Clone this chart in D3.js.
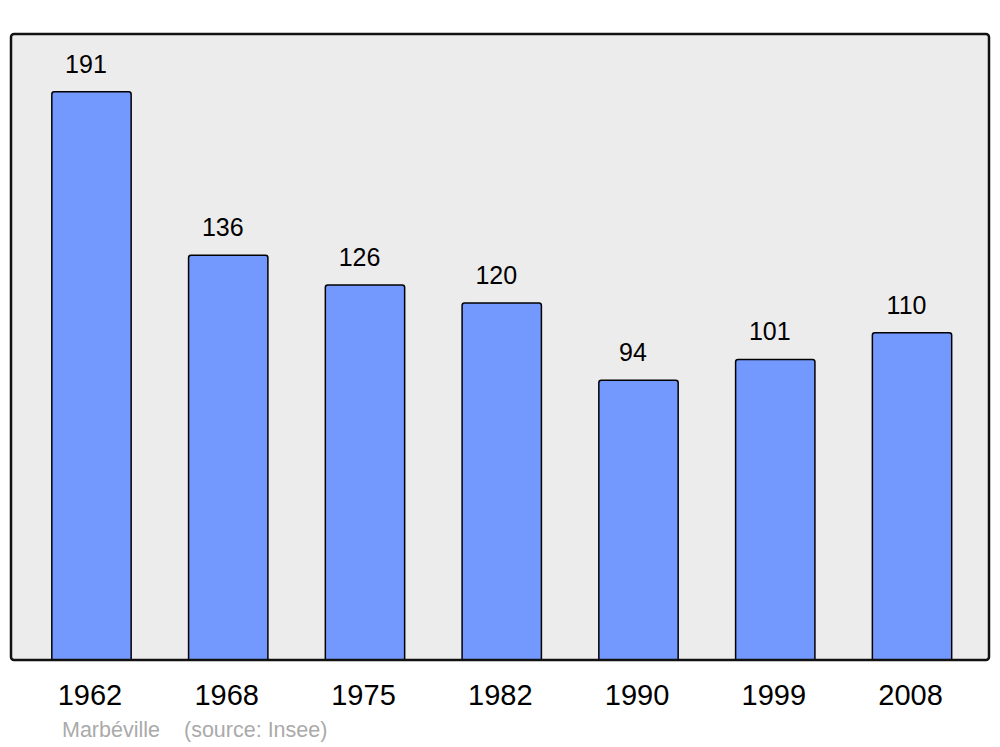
<!DOCTYPE html>
<html><head><meta charset="utf-8">
<script src="https://cdn.jsdelivr.net/npm/d3@7"></script>
<style>body{margin:0;background:#fff}svg{display:block}</style>
</head><body>
<script>
const years = ["1962","1968","1975","1982","1990","1999","2008"];
const population = [191,136,126,120,94,101,110];
const footer = ["Marbéville", "(source: Insee)"];

const W = 1000, H = 747;
const svg = d3.select("body").append("svg").attr("width", W).attr("height", H);
const font = "'Liberation Sans', Arial, sans-serif";

const panel = {x0: 11, x1: 989, y0: 34, y1: 660};

const x = d3.scaleBand().domain(years).range([23.1, 980.4]).paddingInner(0.42).paddingOuter(0.21);
const y = d3.scaleLinear().domain([0, 210.4]).range([panel.y1, panel.y0]);

svg.append("rect").attr("x", panel.x0).attr("y", panel.y0)
  .attr("width", panel.x1 - panel.x0).attr("height", panel.y1 - panel.y0)
  .attr("rx", 3).attr("fill", "#ececec");

const data = years.map((yr, i) => ({yr, v: population[i]}));

const r = 2.5;
svg.selectAll("path.bar").data(data).enter().append("path").attr("class","bar")
  .attr("d", d => {
    const x0 = x(d.yr), x1 = x0 + x.bandwidth(), top = y(d.v), bot = y(0);
    return `M${x0},${bot}V${top + r}Q${x0},${top} ${x0 + r},${top}H${x1 - r}Q${x1},${top} ${x1},${top + r}V${bot}`;
  })
  .attr("fill", "#7399ff").attr("stroke", "#000").attr("stroke-width", 1.5);

svg.selectAll("text.val").data(data).enter().append("text").attr("class","val")
  .attr("x", d => x(d.yr) + x.bandwidth()/2 - 5.5)
  .attr("y", d => y(d.v) - 19)
  .attr("text-anchor", "middle").attr("font-family", font).attr("font-size", 25)
  .attr("fill", "#000").text(d => d.v);

svg.append("rect").attr("x", panel.x0).attr("y", panel.y0)
  .attr("width", panel.x1 - panel.x0).attr("height", panel.y1 - panel.y0)
  .attr("rx", 3).attr("fill", "none").attr("stroke", "#111").attr("stroke-width", 2.5);

const xAxis = d3.axisBottom(x).tickSize(0).tickPadding(0);
const gx = svg.append("g").attr("transform", `translate(0,${panel.y1})`).call(xAxis);
gx.select(".domain").remove();
gx.selectAll("text").attr("font-family", font).attr("font-size", 29).attr("fill", "#000")
  .attr("dy", null).attr("y", 45).attr("dx", -1.5);

svg.append("text").attr("x", 62).attr("y", 737).attr("font-family", font).attr("font-size", 21.5)
  .attr("fill", "#aaaaaa").text(footer[0]);
svg.append("text").attr("x", 184).attr("y", 737).attr("font-family", font).attr("font-size", 21.5)
  .attr("fill", "#aaaaaa").text(footer[1]);
</script>
</body></html>
